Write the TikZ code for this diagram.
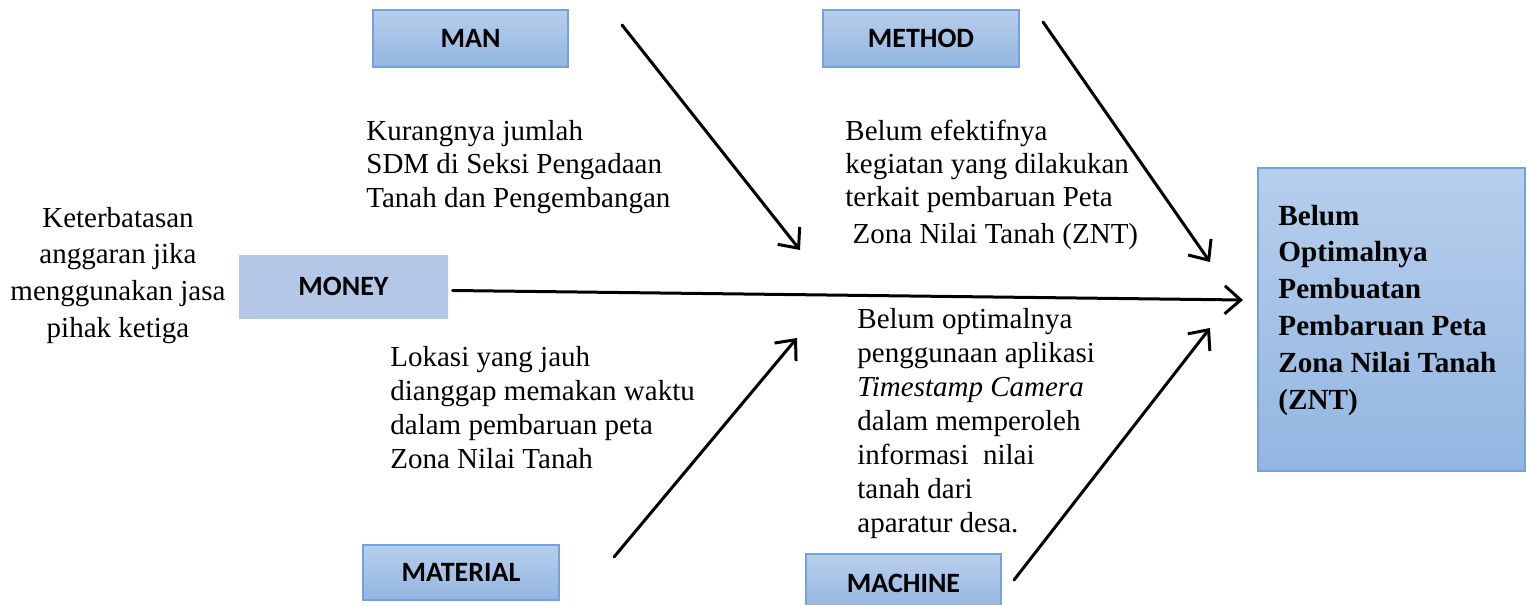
\documentclass[tikz,border=0pt]{standalone}
\usepackage{fontspec}
\setmainfont{Liberation Serif}
\setsansfont{Carlito}
\usetikzlibrary{arrows.meta}
\definecolor{boxtop}{HTML}{B7CEEC}
\definecolor{boxbot}{HTML}{93B6E1}
\definecolor{boxline}{HTML}{74A3DA}
\definecolor{moneyfill}{HTML}{B4C7E7}
\tikzset{
  catbox/.style = {rectangle, draw=boxline, line width=0.6pt, inner sep=0pt,
    top color=boxtop, bottom color=boxbot,
    font=\sffamily\bfseries\fontsize{14}{16}\selectfont},% category box
  cause/.style = {align=left, inner sep=0pt, anchor=base west,
    font=\fontsize{14.5}{16.6}\selectfont},% cause text, placed by last baseline
  arr/.style = {-{Straight Barb[length=8pt,width=14pt]}, line width=1.5pt,
    line cap=round, line join=round}
}

\begin{document}
\begin{tikzpicture}[x=0.5pt,y=-0.5pt]
\useasboundingbox (0,0) rectangle (1527,605);

% category boxes
\node [catbox, minimum width=97.5pt, minimum height=28.5pt] (man) at (470.5,38.5) {MAN};
\node [catbox, minimum width=98pt, minimum height=28.5pt] (method) at (921,38.5) {METHOD};
\node [catbox, draw=none, top color=moneyfill, bottom color=moneyfill,
  minimum width=104.5pt, minimum height=31.5pt] (money) at (343.5,286.5) {MONEY};
\node [catbox, minimum width=98pt, minimum height=27.5pt] (material) at (461,572.5) {MATERIAL};
\node [catbox, minimum width=97.5pt, minimum height=29pt] (machine) at (903.5,583) {MACHINE};

% effect box
\node [catbox, minimum width=133.5pt, minimum height=151.5pt] (znt) at (1391.5,319.5) {};
\node [cause, font=\bfseries\fontsize{14.6}{18.4}\selectfont] (zntTxt) at (1278,409)
  {Belum\\Optimalnya\\Pembuatan\\Pembaruan Peta\\Zona Nilai Tanah\\(ZNT)};

% causes
\node [cause] (manTxt) at (366,207)
  {Kurangnya jumlah\\SDM di Seksi Pengadaan\\Tanah dan Pengembangan};
\node [cause] (methodTxt) at (845,243)
  {Belum efektifnya\\kegiatan yang dilakukan\\terkait pembaruan Peta\\[1.5pt]
   \ Zona Nilai Tanah (ZNT)};
\node [cause, align=center, anchor=base, font=\fontsize{14.5}{18.3}\selectfont]
  (moneyTxt) at (118,337)
  {Keterbatasan\\anggaran jika\\menggunakan jasa\\pihak ketiga};
\node [cause, font=\fontsize{14.5}{17}\selectfont] (materialTxt) at (390,468)
  {Lokasi yang jauh\\dianggap memakan waktu\\dalam pembaruan peta\\Zona Nilai Tanah};
\node [cause, font=\fontsize{14.5}{17}\selectfont] (machineTxt) at (857,532)
  {Belum optimalnya\\penggunaan aplikasi\\\textit{Timestamp Camera}\\dalam memperoleh\\
   informasi \ nilai\\tanah dari\\aparatur desa.};

% arrows
\coordinate (manTail) at (622,25);
\coordinate (manHead) at (800,250);
\coordinate (methodTail) at (1043,22);
\coordinate (methodHead) at (1210,262);
\coordinate (moneyHead) at (1243,300);
\coordinate (materialTail) at (614,557);
\coordinate (materialHead) at (797,338);
\coordinate (machineTail) at (1014,580);
\coordinate (machineHead) at (1210,328);

\draw [arr] (manTail) -- (manHead);
\draw [arr] (methodTail) -- (methodHead);
\draw [arr] ([xshift=2pt,yshift=-2pt]money.east) -- (moneyHead);
\draw [arr] (materialTail) -- (materialHead);
\draw [arr] (machineTail) -- (machineHead);
\end{tikzpicture}
\end{document}
